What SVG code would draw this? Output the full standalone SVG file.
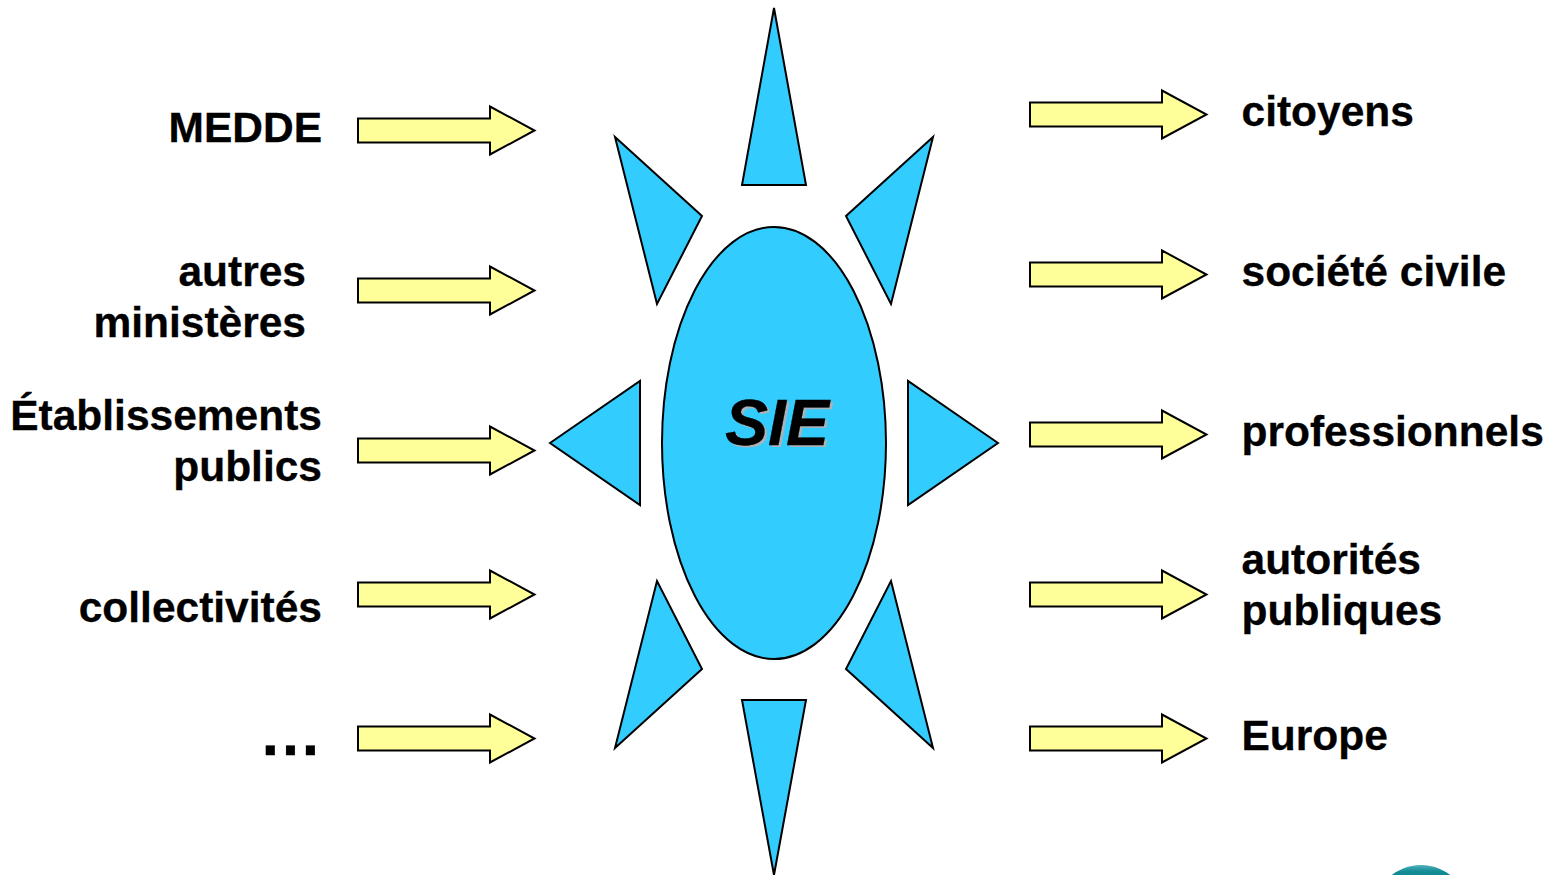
<svg xmlns="http://www.w3.org/2000/svg" width="1556" height="875" viewBox="0 0 1556 875">
<style>
text{font-family:"Liberation Sans",Arial,sans-serif;font-weight:bold;font-size:42.5px;fill:#000;stroke:#000;stroke-width:.3}
.e{text-anchor:end}
.s{fill:#33ccff;stroke:#000;stroke-width:2;stroke-linejoin:miter}
.a{fill:#ffff99;stroke:#000;stroke-width:2}
</style>
<defs>
<path id="ar" class="a" d="M0 -12H132V-24L176.500 0L132 24V12H0Z"/>
<linearGradient id="lg" x1="0" y1="0" x2="0" y2="1"><stop offset="0" stop-color="#4fb3bb"/><stop offset="0.07" stop-color="#128a94"/></linearGradient>
</defs>
<rect width="1556" height="875" fill="#fff"/>
<g id="sun">
<ellipse id="core" class="s" cx="774" cy="443" rx="112" ry="216"/>
<polygon class="s" points="774,8 806,185 742,185"/>
<polygon class="s" points="615,137 702,216 657,304"/>
<polygon class="s" points="933,137 846,216 891,304"/>
<polygon class="s" points="550,443 640,381 640,505"/>
<polygon class="s" points="998,443 908,381 908,505"/>
<polygon class="s" points="615,748 702,669 657,581"/>
<polygon class="s" points="933,748 846,669 891,581"/>
<polygon class="s" points="774,875 806,700 742,700"/>
</g>
<g id="connectors">
<use href="#ar" x="358" y="130.500"/>
<use href="#ar" x="358" y="290.500"/>
<use href="#ar" x="358" y="450.500"/>
<use href="#ar" x="358" y="594.500"/>
<use href="#ar" x="358" y="738.500"/>
<use href="#ar" x="1030" y="114.500"/>
<use href="#ar" x="1030" y="274.500"/>
<use href="#ar" x="1030" y="434.500"/>
<use href="#ar" x="1030" y="594.500"/>
<use href="#ar" x="1030" y="738.500"/>
</g>
<g id="sie"><text x="726" y="445" dx="1.500" dy="2" style="font-size:64.500px;font-style:italic;fill:#a8b4ba;stroke:none">SIE</text><text x="725" y="445" style="font-size:64.500px;font-style:italic">SIE</text></g>
<g id="n-medde"><text class="e" x="322" y="142">MEDDE</text></g>
<g id="n-autres"><text class="e" x="306" y="286">autres</text><text class="e" x="306" y="337">ministères</text></g>
<g id="n-etab"><text class="e" x="322" y="430">Établissements</text><text class="e" x="322" y="481">publics</text></g>
<g id="n-coll"><text class="e" x="322" y="622">collectivités</text></g>
<g id="n-etc"><text x="259" y="755" style="font-size:63px">…</text></g>
<g id="n-cit"><text x="1241.500" y="126">citoyens</text></g>
<g id="n-soc"><text x="1241.500" y="286">société civile</text></g>
<g id="n-pro"><text x="1241.500" y="446">professionnels</text></g>
<g id="n-aut"><text x="1241.500" y="574">autorités</text><text x="1241.500" y="625">publiques</text></g>
<g id="n-eur"><text x="1241.500" y="750">Europe</text></g>
<circle id="logo" cx="1421" cy="913" r="48" fill="url(#lg)"/>
</svg>
